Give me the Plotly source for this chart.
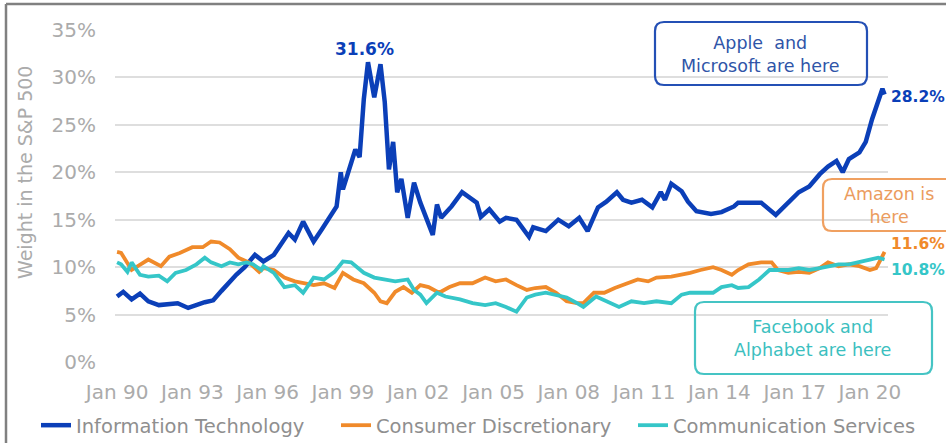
import plotly.graph_objects as go

# ---------------- data (monthly samples, % weight) ----------------
it_dates = ["1990-01","1990-04","1990-08","1990-12","1991-04","1991-09","1992-06","1992-11","1993-07","1993-11",
            "1994-03","1994-10","1995-02","1995-07","1995-11","1996-04","1996-11","1997-02","1997-06","1997-11",
            "1998-03","1998-07","1998-10","1998-12","1999-01","1999-07","1999-09","1999-11","2000-01","2000-04",
            "2000-07","2000-09","2000-11","2001-01","2001-03","2001-05","2001-08","2001-11","2002-01","2002-02",
            "2002-08","2002-10","2002-12","2003-05","2003-10","2004-01","2004-05","2004-07","2004-11","2005-04",
            "2005-07","2005-12","2006-06","2006-08","2007-02","2007-08","2008-01","2008-06","2008-10","2009-03",
            "2009-07","2009-12","2010-03","2010-07","2010-12","2011-05","2011-09","2011-11","2012-02","2012-07",
            "2012-10","2013-02","2013-09","2014-02","2014-08","2014-10","2015-03","2015-09","2016-04","2016-09",
            "2017-03","2017-08","2018-01","2018-05","2018-09","2018-12","2019-03","2019-08","2019-11","2020-02",
            "2020-05","2020-07","2020-08"]
it_vals = [6.9,7.4,6.6,7.2,6.4,6.0,6.2,5.7,6.3,6.5,
           7.5,9.2,10.0,11.3,10.6,11.3,13.6,12.9,14.8,12.7,
           14.0,15.3,16.4,20.0,18.2,22.4,21.6,27.7,31.6,27.9,
           31.4,27.4,20.3,23.2,17.9,19.3,15.2,18.9,17.5,16.8,
           13.4,16.6,15.2,16.4,17.9,17.4,16.8,15.3,16.1,14.8,
           15.2,15.0,13.2,14.2,13.8,15.0,14.3,15.2,13.8,16.3,
           16.9,17.9,17.1,16.8,17.1,16.3,17.9,17.1,18.8,18.0,
           16.9,15.9,15.6,15.8,16.4,16.8,16.8,16.8,15.5,16.6,
           17.9,18.5,19.8,20.6,21.2,20.0,21.4,22.1,23.2,25.6,
           27.4,28.8,28.2]

cd_dates = ["1990-01","1990-03","1990-08","1990-12","1991-04","1991-10","1992-02","1992-07","1993-01","1993-06",
            "1993-10","1994-02","1994-07","1994-11","1995-04","1995-09","1995-11","1996-04","1996-09","1997-02",
            "1997-06","1997-11","1998-04","1998-09","1999-01","1999-06","1999-11","2000-04","2000-07","2000-10",
            "2001-02","2001-06","2001-10","2002-02","2002-06","2002-11","2003-04","2003-09","2004-03","2004-09",
            "2005-02","2005-07","2005-12","2006-05","2006-09","2007-02","2007-07","2007-12","2008-05","2008-08",
            "2009-01","2009-06","2009-11","2010-05","2010-10","2011-03","2011-07","2012-02","2012-07","2012-11",
            "2013-04","2013-10","2014-02","2014-07","2014-10","2015-03","2015-09","2016-02","2016-05","2016-10",
            "2017-03","2017-08","2018-01","2018-05","2018-10","2019-03","2019-08","2020-01","2020-04","2020-07",
            "2020-08"]
cd_vals = [11.6,11.5,9.7,10.3,10.8,10.1,11.1,11.5,12.1,12.1,
           12.7,12.6,11.9,11.0,10.5,9.5,9.9,9.7,8.9,8.5,
           8.3,8.1,8.3,7.8,9.4,8.7,8.3,7.3,6.4,6.2,
           7.4,7.9,7.3,8.1,7.9,7.3,7.9,8.3,8.3,8.9,
           8.5,8.7,8.1,7.6,7.8,7.9,7.3,6.4,6.2,6.2,
           7.3,7.3,7.8,8.3,8.7,8.5,8.9,9.0,9.2,9.4,
           9.7,10.0,9.7,9.2,9.7,10.3,10.5,10.5,9.7,9.4,
           9.5,9.4,9.9,10.5,10.1,10.3,10.1,9.7,9.9,11.3,
           11.6]

cs_dates = ["1990-01","1990-03","1990-06","1990-08","1990-12","1991-04","1991-09","1992-01","1992-05","1992-10",
            "1993-03","1993-07","1993-10","1994-03","1994-07","1994-11","1995-03","1995-06","1995-10","1995-11",
            "1996-04","1996-09","1997-02","1997-06","1997-11","1998-04","1998-09","1999-01","1999-05","1999-08",
            "1999-11","2000-04","2000-09","2001-02","2001-08","2001-11","2002-02","2002-05","2002-10","2003-02",
            "2003-09","2004-03","2004-09","2005-02","2005-07","2005-12","2006-05","2006-09","2007-02","2007-07",
            "2007-12","2008-05","2008-08","2009-02","2009-07","2010-01","2010-07","2011-01","2011-07","2012-02",
            "2012-07","2012-11","2013-04","2013-10","2014-02","2014-07","2014-10","2015-03","2015-08","2016-01",
            "2016-05","2016-10","2017-03","2017-08","2018-01","2018-05","2018-10","2019-03","2019-08","2020-01",
            "2020-05","2020-08"]
cs_vals = [10.5,10.3,9.5,10.5,9.2,9.0,9.1,8.5,9.4,9.7,
           10.3,11.0,10.5,10.1,10.5,10.3,10.5,10.3,9.7,10.1,
           9.4,7.9,8.1,7.3,8.9,8.7,9.5,10.6,10.5,9.9,
           9.4,8.9,8.7,8.5,8.7,7.6,7.1,6.2,7.3,6.9,
           6.6,6.2,6.0,6.2,5.8,5.3,6.8,7.1,7.3,7.1,
           6.8,6.2,5.8,6.9,6.4,5.8,6.4,6.2,6.4,6.2,
           7.1,7.3,7.3,7.3,7.9,8.1,7.8,7.9,8.7,9.7,
           9.7,9.7,9.9,9.7,9.9,10.1,10.3,10.3,10.5,10.8,
           11.0,10.8]

series_names = ["Information Technology", "Consumer Discretionary", "Communication Services"]
colors = ["#0b3fb8", "#f08a2a", "#35c6c8"]

tick_dates = ["1990-01-01","1993-01-01","1996-01-01","1999-01-01","2002-01-01","2005-01-01",
              "2008-01-01","2011-01-01","2014-01-01","2017-01-01","2020-01-01"]
tick_labels = ["Jan 90","Jan 93","Jan 96","Jan 99","Jan 02","Jan 05","Jan 08","Jan 11","Jan 14","Jan 17","Jan 20"]
y_ticks = [0, 5, 10, 15, 20, 25, 30, 35]
y_labels = [f"{v}%" for v in y_ticks]

FONT = "DejaVu Sans"
GRAY = "#ababab"

fig = go.Figure()
for d, v, n, c, w, lw in [(it_dates, it_vals, series_names[0], colors[0], 4.5, 255),
                          (cd_dates, cd_vals, series_names[1], colors[1], 3.8, 252),
                          (cs_dates, cs_vals, series_names[2], colors[2], 3.8, 245)]:
    fig.add_trace(go.Scatter(x=d, y=v, name=n, mode="lines", legendwidth=lw,
                             line=dict(color=c, width=w, shape="linear")))

# ---- layout geometry helpers (plot area 115..888 px, 30..362 px) ----
L, R, T, B = 115, 888, 30, 362
def px(x):
    return (x - L) / (R - L)
def py(y):
    return (B - y) / (B - T)

def rounded_box(x0, y0, x1, y1, r=9):
    rx = r / (R - L)
    ry = r / (B - T)
    X0, X1 = px(x0), px(x1)
    Y0, Y1 = py(y1), py(y0)  # bottom, top in paper
    return (f"M {X0+rx},{Y1} L {X1-rx},{Y1} Q {X1},{Y1} {X1},{Y1-ry} "
            f"L {X1},{Y0+ry} Q {X1},{Y0} {X1-rx},{Y0} L {X0+rx},{Y0} "
            f"Q {X0},{Y0} {X0},{Y0+ry} L {X0},{Y1-ry} Q {X0},{Y1} {X0+rx},{Y1} Z")

shapes = [
    dict(type="path", xref="paper", yref="paper", path=rounded_box(655, 22, 867, 85),
         line=dict(color="#2450b5", width=2.2), fillcolor="rgba(0,0,0,0)"),
    dict(type="path", xref="paper", yref="paper", path=rounded_box(823, 179, 958, 231),
         line=dict(color="#f0a060", width=2.2), fillcolor="rgba(0,0,0,0)"),
    dict(type="path", xref="paper", yref="paper", path=rounded_box(695, 302, 932, 374),
         line=dict(color="#45c4c4", width=2.2), fillcolor="rgba(0,0,0,0)"),
    # outer frame (left and top edges)
    dict(type="line", xref="paper", yref="paper", x0=px(6), x1=px(6), y0=py(4), y1=py(460),
         line=dict(color="#808080", width=2.5)),
    dict(type="line", xref="paper", yref="paper", x0=px(6), x1=px(960), y0=py(4), y1=py(4),
         line=dict(color="#808080", width=2.5)),
]

END_SIZE = 15.5
annotations = [
    dict(text="<b>31.6%</b>", x="1999-11-15", y=31.6, xref="x", yref="y", xanchor="center",
         yanchor="bottom", yshift=1, showarrow=False, font=dict(family=FONT, size=17, color=colors[0])),
    dict(text="<b>28.2%</b>", x=px(889), y=27.9, xref="paper", yref="y", xanchor="left",
         yanchor="middle", showarrow=False, font=dict(family=FONT, size=END_SIZE, color=colors[0])),
    dict(text="<b>11.6%</b>", x=px(889), y=12.4, xref="paper", yref="y", xanchor="left",
         yanchor="middle", showarrow=False, font=dict(family=FONT, size=END_SIZE, color=colors[1])),
    dict(text="<b>10.8%</b>", x=px(889), y=9.7, xref="paper", yref="y", xanchor="left",
         yanchor="middle", showarrow=False, font=dict(family=FONT, size=END_SIZE, color=colors[2])),
    dict(text="Apple  and<br>Microsoft are here", x=px(760), y=py(54), xref="paper", yref="paper",
         xanchor="center", yanchor="middle", showarrow=False, align="center",
         font=dict(family=FONT, size=17.5, color="#2f55a8")),
    dict(text="Amazon is<br>here", x=px(889), y=py(205), xref="paper", yref="paper",
         xanchor="center", yanchor="middle", showarrow=False, align="center",
         font=dict(family=FONT, size=17.5, color="#eb9c5e")),
    dict(text="Facebook and<br>Alphabet are here", x=px(812), y=py(338), xref="paper", yref="paper",
         xanchor="center", yanchor="middle", showarrow=False, align="center",
         font=dict(family=FONT, size=17.5, color="#3cbfc0")),
    # y-axis title
    dict(text="Weight in the S&P 500", x=px(25), y=py(173), xref="paper", yref="paper",
         xanchor="center", yanchor="middle", textangle=-90, showarrow=False,
         font=dict(family=FONT, size=19, color=GRAY)),
]

fig.update_layout(
    width=946, height=443,
    margin=dict(l=L, r=946 - R, t=T, b=443 - B, autoexpand=False),
    paper_bgcolor="white", plot_bgcolor="white",
    font=dict(family=FONT, color=GRAY),
    shapes=shapes, annotations=annotations,
    showlegend=True,
    legend=dict(orientation="h", x=px(36), y=py(406), xanchor="left", yanchor="top",
                font=dict(family=FONT, size=19.5, color="#8f8f8f"),
                bgcolor="rgba(0,0,0,0)", itemwidth=30, tracegroupgap=0),
)
fig.update_xaxes(type="date", range=["1989-12-02", "2020-09-20"],
                 tickvals=tick_dates, ticktext=tick_labels,
                 showgrid=False, zeroline=False, showline=False, ticks="",
                 tickfont=dict(family=FONT, size=20, color=GRAY), ticklabelstandoff=16)
fig.update_yaxes(range=[0, 35], tickvals=y_ticks, ticktext=y_labels,
                 showgrid=True, gridcolor="#dedede", gridwidth=1.5, zeroline=False,
                 showline=False, ticks="",
                 tickfont=dict(family=FONT, size=20, color=GRAY), ticklabelstandoff=18)

fig.write_html("out.html")
